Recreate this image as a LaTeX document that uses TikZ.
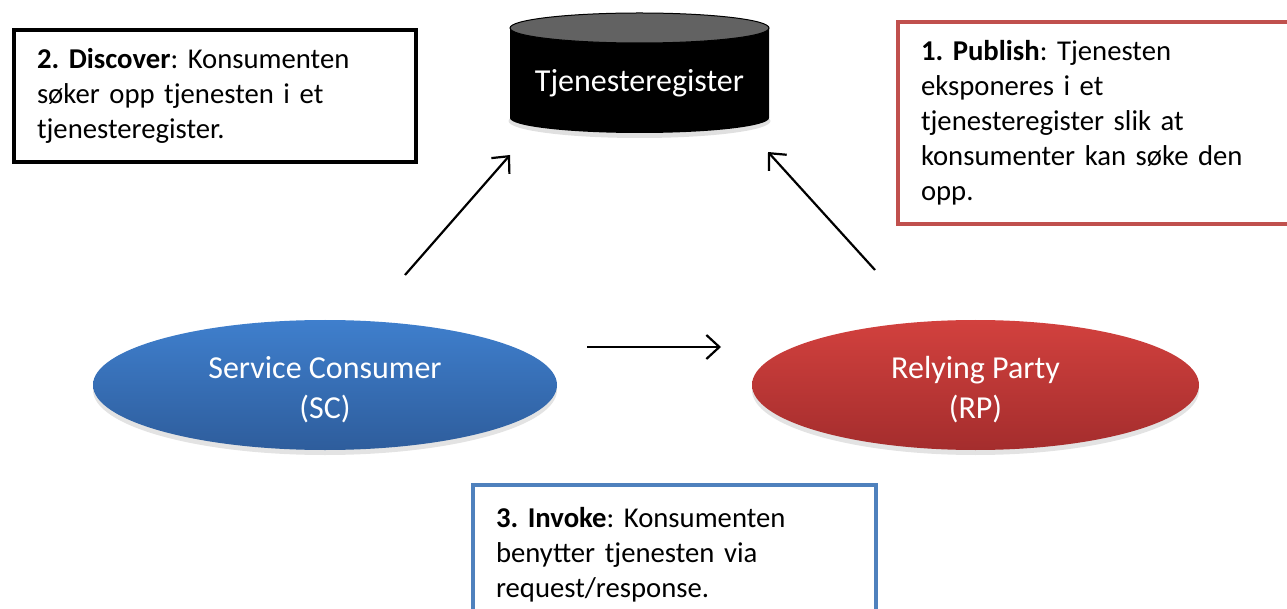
\documentclass[tikz,border=0pt]{standalone}
\usepackage{fontspec}
\setmainfont{Carlito}
\frenchspacing
\usetikzlibrary{shapes.geometric,arrows.meta,shadows}

\definecolor{scTop}{HTML}{3F7FCD}
\definecolor{scBot}{HTML}{2E5D9C}
\definecolor{rpTop}{HTML}{D2413E}
\definecolor{rpBot}{HTML}{A42D2D}
\definecolor{pubRed}{HTML}{C0504D}
\definecolor{invBlue}{HTML}{4F81BD}
\definecolor{capGray}{HTML}{626262}

\tikzset{
  note/.style={draw, line width=4pt, fill=white, anchor=north west, inner xsep=23pt,
    inner ysep=0pt, align=left, font=\fontsize{28.7}{35}\selectfont},
  actor/.style={ellipse, minimum width=464pt, minimum height=130pt, inner sep=0pt,
    drop shadow={opacity=0.22, shadow xshift=0pt, shadow yshift=-5pt}},
  actortext/.style={align=center, text=white, inner sep=0pt, font=\fontsize{32}{40}\selectfont},
  flow/.style={line width=2.2pt, -{Straight Barb[length=13pt,width=24pt,line width=2.2pt]}},
}

\begin{document}
\begin{tikzpicture}[x=1pt,y=-1pt]
\useasboundingbox (0,0) rectangle (1287,609);

% registry cylinder with a soft shadow underneath
\fill[black, opacity=0.12] (639.5,121) ellipse[x radius=131pt, y radius=17pt];
\fill[black] (510,28) -- (510,118) arc[start angle=180,end angle=360,x radius=129.5pt,y radius=15pt] -- (769,28) -- cycle;
\filldraw[fill=capGray, draw=black, line width=1pt] (639.5,28) ellipse[x radius=129.5pt, y radius=15pt];
\node[text=white, font=\fontsize{32}{38}\selectfont] (reg) at (639.5,83) {Tjenesteregister};

% actors
\node[actor, top color=scTop, bottom color=scBot] (sc) at (325,385) {};
\node[actortext] (scText) at ([yshift=-5pt]sc.center) {Service Consumer\\(SC)};
\node[actor, minimum width=447pt, top color=rpTop, bottom color=rpBot] (rp) at (975.5,385) {};
\node[actortext] (rpText) at ([yshift=-5pt]rp.center) {Relying Party\\(RP)};

% notes
\node[note, draw=black, text width=356pt, minimum height=132pt] (discover) at (12,28)
  {\textbf{2. Discover}: Konsumenten\\søker opp tjenesten i et\\tjenesteregister.};
\node[note, draw=pubRed, text width=350pt, minimum height=202pt] (publish) at (896,20)
  {\textbf{1. Publish}: Tjenesten\\eksponeres i et\\tjenesteregister slik at\\konsumenter kan søke den\\opp.};
\node[note, draw=invBlue, text width=357pt, minimum height=140pt] (invoke) at (471,483)
  {\textbf{3. Invoke}: Konsumenten\\benytter tjenesten via\\request/response.};

% flows
\coordinate (discFrom) at (405,275);
\coordinate (discTo) at (510,155);
\coordinate (pubFrom) at (875,270);
\coordinate (pubTo) at (768,152);
\coordinate (invFrom) at (587,347);
\coordinate (invTo) at (721,347);
\draw[flow] (discFrom) -- (discTo);
\draw[flow] (pubFrom) -- (pubTo);
\draw[flow] (invFrom) -- (invTo);
\end{tikzpicture}
\end{document}
